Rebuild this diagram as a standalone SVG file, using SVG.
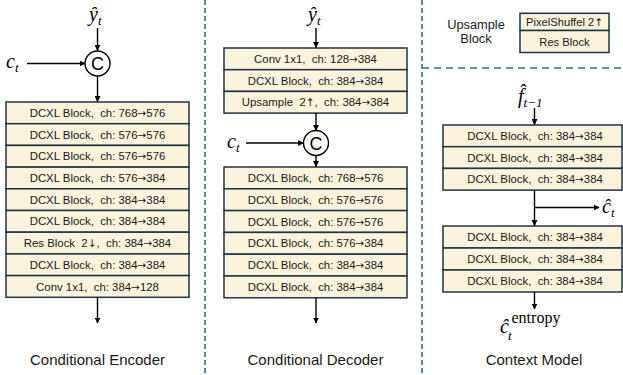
<svg xmlns="http://www.w3.org/2000/svg" width="623" height="375" viewBox="0 0 623 375">
  <defs>
    <marker id="arrow" viewBox="0 0 10 10" refX="9" refY="5" markerWidth="6" markerHeight="6" markerUnits="userSpaceOnUse" orient="auto">
      <path d="M0,0 L10,5 L0,10 z" fill="#000"/>
    </marker>
    <style>
      .blk { fill: #FBF3DC; stroke: #1E3446; stroke-width: 1.5; }
      .lbl { font-family: "Liberation Sans", Arial, sans-serif; font-size: 11.4px; fill: #1a1a1a; text-anchor: middle; dominant-baseline: central; }
      .sm { font-size: 11.2px; }
      .arr { font-family: "DejaVu Sans", sans-serif; font-size: 10.5px; }
      .cap { font-family: "Liberation Sans", Arial, sans-serif; font-size: 15px; fill: #1a1a1a; text-anchor: middle; }
      .leg { font-family: "Liberation Sans", Arial, sans-serif; font-size: 12.8px; fill: #1a1a1a; text-anchor: middle; dominant-baseline: central; }
      .math { font-family: "Liberation Serif", "DejaVu Serif", serif; font-style: italic; font-size: 20px; fill: #000; }
      .sub { font-size: 13px; }
      .up { font-style: normal; font-size: 16px; }
      .edge { stroke: #000; stroke-width: 1.4; fill: none; }
      .sep { stroke: #2F6F95; stroke-width: 1.6; stroke-dasharray: 5 3; fill: none; }
      .sepH { stroke: #2F6F95; stroke-width: 1.6; stroke-dasharray: 7 5; fill: none; }
      .cc { fill: #fff; stroke: #000; stroke-width: 1.4; }
      .ctext { font-family: "Liberation Sans", Arial, sans-serif; font-size: 18px; text-anchor: middle; dominant-baseline: central; }
    </style>
  </defs>

  <!-- section separators -->
  <g id="separators">
    <line class="sep" x1="205" y1="0" x2="205" y2="375"/>
    <line class="sep" x1="422" y1="0" x2="422" y2="375"/>
    <line class="sepH" x1="422" y1="68" x2="623" y2="68"/>
  </g>

  <!-- Conditional Encoder -->
  <g id="enc-input">
    <text class="math" x="89" y="21">ŷ<tspan class="sub" dy="4">t</tspan></text>
    <text class="math" x="6" y="68">c<tspan class="sub" dy="4">t</tspan></text>
  </g>
  <g id="enc-concat">
    <circle class="cc" cx="97.5" cy="63.5" r="12.5"/>
    <text class="ctext" x="97.5" y="64">C</text>
  </g>
  <g id="enc-stack">
    <rect class="blk" x="6" y="102" width="183" height="21.7"/>
    <rect class="blk" x="6" y="123.7" width="183" height="21.7"/>
    <rect class="blk" x="6" y="145.4" width="183" height="21.7"/>
    <rect class="blk" x="6" y="167.1" width="183" height="21.7"/>
    <rect class="blk" x="6" y="188.8" width="183" height="21.7"/>
    <rect class="blk" x="6" y="210.5" width="183" height="21.7"/>
    <rect class="blk" x="6" y="232.2" width="183" height="21.7"/>
    <rect class="blk" x="6" y="253.9" width="183" height="21.7"/>
    <rect class="blk" x="6" y="275.6" width="183" height="21.7"/>
    <text class="lbl" x="97.5" y="112.9">DCXL Block,&#160; ch: 768<tspan class="arr">→</tspan>576</text>
    <text class="lbl" x="97.5" y="134.6">DCXL Block,&#160; ch: 576<tspan class="arr">→</tspan>576</text>
    <text class="lbl" x="97.5" y="156.3">DCXL Block,&#160; ch: 576<tspan class="arr">→</tspan>576</text>
    <text class="lbl" x="97.5" y="178">DCXL Block,&#160; ch: 576<tspan class="arr">→</tspan>384</text>
    <text class="lbl" x="97.5" y="199.7">DCXL Block,&#160; ch: 384<tspan class="arr">→</tspan>384</text>
    <text class="lbl" x="97.5" y="221.4">DCXL Block,&#160; ch: 384<tspan class="arr">→</tspan>384</text>
    <text class="lbl" x="97.5" y="243.1">Res Block&#160; 2<tspan class="arr">↓</tspan>,&#160; ch: 384<tspan class="arr">→</tspan>384</text>
    <text class="lbl" x="97.5" y="264.8">DCXL Block,&#160; ch: 384<tspan class="arr">→</tspan>384</text>
    <text class="lbl" x="97.5" y="286.5">Conv 1x1,&#160; ch: 384<tspan class="arr">→</tspan>128</text>
  </g>
  <text class="cap" x="97.5" y="365">Conditional Encoder</text>

  <!-- Conditional Decoder -->
  <g id="dec-input">
    <text class="math" x="308" y="21">ŷ<tspan class="sub" dy="4">t</tspan></text>
    <text class="math" x="227" y="148">c<tspan class="sub" dy="4">t</tspan></text>
  </g>
  <g id="dec-head">
    <rect class="blk" x="224" y="48" width="183" height="21.7"/>
    <rect class="blk" x="224" y="69.7" width="183" height="21.7"/>
    <rect class="blk" x="224" y="91.4" width="183" height="21.7"/>
    <text class="lbl" x="315.5" y="58.9">Conv 1x1,&#160; ch: 128<tspan class="arr">→</tspan>384</text>
    <text class="lbl" x="315.5" y="80.6">DCXL Block,&#160; ch: 384<tspan class="arr">→</tspan>384</text>
    <text class="lbl" x="315.5" y="102.3">Upsample&#160; 2<tspan class="arr">↑</tspan>,&#160; ch: 384<tspan class="arr">→</tspan>384</text>
  </g>
  <g id="dec-concat">
    <circle class="cc" cx="316" cy="143" r="12.5"/>
    <text class="ctext" x="316" y="143.5">C</text>
  </g>
  <g id="dec-stack">
    <rect class="blk" x="224" y="167" width="183" height="21.8"/>
    <rect class="blk" x="224" y="188.8" width="183" height="21.8"/>
    <rect class="blk" x="224" y="210.6" width="183" height="21.8"/>
    <rect class="blk" x="224" y="232.4" width="183" height="21.8"/>
    <rect class="blk" x="224" y="254.2" width="183" height="21.8"/>
    <rect class="blk" x="224" y="276" width="183" height="21.8"/>
    <text class="lbl" x="315.5" y="177.9">DCXL Block,&#160; ch: 768<tspan class="arr">→</tspan>576</text>
    <text class="lbl" x="315.5" y="199.7">DCXL Block,&#160; ch: 576<tspan class="arr">→</tspan>576</text>
    <text class="lbl" x="315.5" y="221.5">DCXL Block,&#160; ch: 576<tspan class="arr">→</tspan>576</text>
    <text class="lbl" x="315.5" y="243.3">DCXL Block,&#160; ch: 576<tspan class="arr">→</tspan>384</text>
    <text class="lbl" x="315.5" y="265.1">DCXL Block,&#160; ch: 384<tspan class="arr">→</tspan>384</text>
    <text class="lbl" x="315.5" y="286.9">DCXL Block,&#160; ch: 384<tspan class="arr">→</tspan>384</text>
  </g>
  <text class="cap" x="315.5" y="365">Conditional Decoder</text>

  <!-- Upsample Block legend -->
  <g id="upsample-legend">
    <text class="leg" x="476" y="24">Upsample</text>
    <text class="leg" x="476" y="38.5">Block</text>
    <rect class="blk" x="520" y="13.3" width="89" height="17.2"/>
    <rect class="blk" x="520" y="30.5" width="89" height="22"/>
    <text class="lbl sm" x="564.5" y="21.9">PixelShuffel 2<tspan class="arr">↑</tspan></text>
    <text class="lbl sm" x="564.5" y="41.5">Res Block</text>
  </g>

  <!-- Context Model -->
  <g id="ctx-input">
    <text class="math" x="518" y="103">f&#770;<tspan class="sub" font-size="14" dy="4">t−1</tspan></text>
  </g>
  <g id="ctx-stack1">
    <rect class="blk" x="443" y="125" width="179" height="21.7"/>
    <rect class="blk" x="443" y="146.7" width="179" height="21.7"/>
    <rect class="blk" x="443" y="168.4" width="179" height="21.7"/>
    <text class="lbl" x="535" y="135.9">DCXL Block,&#160; ch: 384<tspan class="arr">→</tspan>384</text>
    <text class="lbl" x="535" y="157.6">DCXL Block,&#160; ch: 384<tspan class="arr">→</tspan>384</text>
    <text class="lbl" x="535" y="179.3">DCXL Block,&#160; ch: 384<tspan class="arr">→</tspan>384</text>
  </g>
  <g id="ctx-out">
    <text class="math" x="602" y="213">ĉ<tspan class="sub" dy="4">t</tspan></text>
  </g>
  <g id="ctx-stack2">
    <rect class="blk" x="443" y="226" width="179" height="22"/>
    <rect class="blk" x="443" y="248" width="179" height="22"/>
    <rect class="blk" x="443" y="270" width="179" height="22"/>
    <text class="lbl" x="535" y="237">DCXL Block,&#160; ch: 384<tspan class="arr">→</tspan>384</text>
    <text class="lbl" x="535" y="259">DCXL Block,&#160; ch: 384<tspan class="arr">→</tspan>384</text>
    <text class="lbl" x="535" y="281">DCXL Block,&#160; ch: 384<tspan class="arr">→</tspan>384</text>
  </g>
  <g id="ctx-entropy">
    <text class="math" x="500" y="333">ĉ<tspan class="sub" dx="-1" dy="7">t</tspan><tspan class="up" dx="0" dy="-17">entropy</tspan></text>
  </g>
  <text class="cap" x="534" y="365">Context Model</text>

  <!-- connectors -->
  <g id="connectors">
    <line class="edge" x1="97.5" y1="28" x2="97.5" y2="50.5" marker-end="url(#arrow)"/>
    <line class="edge" x1="27" y1="63.5" x2="85" y2="63.5" marker-end="url(#arrow)"/>
    <line class="edge" x1="97.5" y1="76" x2="97.5" y2="101.5" marker-end="url(#arrow)"/>
    <line class="edge" x1="97.5" y1="297.5" x2="97.5" y2="323" marker-end="url(#arrow)"/>

    <line class="edge" x1="316" y1="28" x2="316" y2="47.5" marker-end="url(#arrow)"/>
    <line class="edge" x1="316" y1="113" x2="316" y2="130.5" marker-end="url(#arrow)"/>
    <line class="edge" x1="246" y1="143" x2="303.5" y2="143" marker-end="url(#arrow)"/>
    <line class="edge" x1="316" y1="155.5" x2="316" y2="166.5" marker-end="url(#arrow)"/>
    <line class="edge" x1="316" y1="298" x2="316" y2="323" marker-end="url(#arrow)"/>

    <line class="edge" x1="534.5" y1="108" x2="534.5" y2="124.5" marker-end="url(#arrow)"/>
    <line class="edge" x1="534.5" y1="190" x2="534.5" y2="225.5" marker-end="url(#arrow)"/>
    <line class="edge" x1="534.5" y1="207.5" x2="599" y2="207.5" marker-end="url(#arrow)"/>
    <line class="edge" x1="534.5" y1="292" x2="534.5" y2="309" marker-end="url(#arrow)"/>
  </g>
</svg>
